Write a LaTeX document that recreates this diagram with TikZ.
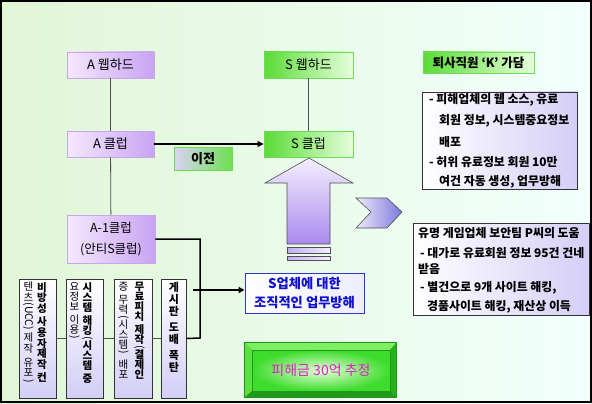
\documentclass[tikz,border=0pt]{standalone}
\usepackage{fontspec}
\setmainfont{Noto Sans CJK KR}
\usetikzlibrary{arrows.meta,calc}
\definecolor{bgL}{HTML}{E0F6D6}
\definecolor{bgR}{HTML}{F2FFFD}
\definecolor{pB}{HTML}{C8A6EC}
\definecolor{pL}{HTML}{F4E8FF}
\definecolor{pR}{HTML}{C9A3F2}
\definecolor{gB}{HTML}{6EDC50}
\definecolor{gL}{HTML}{5ADB36}
\definecolor{gR}{HTML}{E6FFDC}
\definecolor{iL}{HTML}{DAD3F6}
\definecolor{iR}{HTML}{6EE050}
\definecolor{tB}{HTML}{333333}
\definecolor{tR}{HTML}{D4CEF6}
\definecolor{vR}{HTML}{D2CEF6}
\definecolor{lineC}{HTML}{505050}
\definecolor{sB}{HTML}{2A38D0}
\definecolor{sT}{HTML}{1010D0}
\definecolor{aT}{HTML}{F3EEFD}
\definecolor{aB}{HTML}{AA8AEE}
\definecolor{cL}{HTML}{EEEAFB}
\definecolor{cR}{HTML}{7C78DC}
\definecolor{mag}{HTML}{E020C8}
\definecolor{lgT}{HTML}{7CF060}
\definecolor{lgL}{HTML}{5AE040}
\definecolor{lgR}{HTML}{28B020}
\definecolor{lgBo}{HTML}{1E9A18}
\definecolor{lgIn}{HTML}{E4FFD8}
\definecolor{lgOut}{HTML}{3EDC2C}
\newcommand\rp[1]{\rotatebox[origin=c]{-90}{#1}}
\tikzset{
 pbox/.style={draw=pB, line width=0.9pt, left color=pL, right color=pR, inner sep=0pt, font=\fontsize{13}{15}\selectfont},
 gbox/.style={draw=gB, line width=0.9pt, left color=gL, right color=gR, inner sep=0pt, font=\fontsize{13}{15}\selectfont},
 tbox/.style={draw=tB, line width=0.8pt, left color=white, right color=tR, inner sep=0pt},
 vbox/.style={draw=tB, line width=0.8pt, top color=white, bottom color=vR, inner sep=0pt, minimum height=119pt},
 tline/.style={anchor=west, inner sep=0pt, font=\fontsize{11.9}{13}\selectfont\bfseries},
 vcol/.style={anchor=north, inner sep=0pt, align=center},
 conn/.style={draw=lineC, line width=0.8pt},
 conn2/.style={draw=black, line width=1.5pt},
 arr/.style={-{Triangle[length=6pt,width=6pt]}, line width=1.2pt},
}
\begin{document}
\begin{tikzpicture}[x=1pt,y=-1pt]
\useasboundingbox (0,0) rectangle (592,404);
\shade[left color=bgL, right color=bgR] (0,0) rectangle (592,404);
\draw[line width=2pt] (1,1) rectangle (590.5,402);

% top-left column
\node[pbox, minimum width=87pt, minimum height=26pt] (aw) at (110.5,65) {A 웹하드};
\node[pbox, minimum width=87pt, minimum height=26pt] (ac) at (110.5,144) {A 클럽};
\node[pbox, minimum width=88pt, minimum height=48pt, align=center, font=\fontsize{12.5}{21}\selectfont] (a1) at (111,239) {A-1클럽\\(안티S클럽)};
% S column
\node[gbox, minimum width=89pt, minimum height=26pt] (sw) at (308.5,65) {S 웹하드};
\node[gbox, minimum width=89pt, minimum height=26pt] (sc) at (308.5,144) {S 클럽};
\node[draw=gB, line width=0.9pt, left color=iL, right color=iR, inner sep=0pt, minimum width=58pt, minimum height=23pt, font=\fontsize{13}{15}\selectfont\bfseries] (mv) at (203,158.5) {이전};
\node[gbox, minimum width=111pt, minimum height=21pt, font=\fontsize{12.5}{14}\selectfont\bfseries] (kk) at (478.5,62.5) {퇴사직원 ‘K’ 가담};

\draw[conn] (aw) -- (ac);
\draw[conn] (ac) -- (a1);
\draw[conn] (sw) -- (sc);
\draw[arr] (ac) -- (sc);

% text box 1
\node[tbox, minimum width=155pt, minimum height=97pt] (tb1) at (499.5,140.5) {};
\node[tline] (t11) at (429,100) {- 피해업체의 웹 소스, 유료};
\node[tline] (t12) at (439,121) {회원 정보, 시스템중요정보};
\node[tline] (t13) at (439,142) {배포};
\node[tline] (t14) at (429,162) {- 허위 유료정보 회원 10만};
\node[tline] (t15) at (439,182) {여건 자동 생성, 업무방해};

% text box 2
\node[tbox, minimum width=176pt, minimum height=92pt] (tb2) at (501,269) {};
\node[tline] (t21) at (418,233) {유명 게임업체 보안팀 P씨의 도움};
\node[tline] (t22) at (420,253) {- 대가로 유료회원 정보 95건 건네};
\node[tline] (t23) at (418,269) {받음};
\node[tline] (t24) at (420,288) {- 별건으로 9개 사이트 해킹,};
\node[tline] (t25) at (427,307) {경품사이트 해킹, 재산상 이득};

% big up arrow
\shade[top color=aT, bottom color=aB, draw=lineC, line width=0.6pt]
 (309,158) -- (353,183) -- (330,183) -- (330,244) -- (287,244) -- (287,183) -- (265,183) -- cycle;
\shade[left color=aB!70, right color=aT, draw=lineC, line width=0.6pt] (287,247) rectangle (330,253);
\shade[left color=aB!70, right color=aT, draw=lineC, line width=0.6pt] (287,256) rectangle (330,260);
% chevron
\shade[left color=cL, right color=cR, draw=lineC, line width=0.6pt]
 (356,198) -- (387,198) -- (402,212) -- (387,228) -- (356,228) -- (371,212) -- cycle;

% S obstruction box
\node[draw=sB, line width=1pt, left color=white, right color=white!93!blue, inner sep=0pt, minimum width=119pt, minimum height=40pt, align=center, text=sT, font=\fontsize{13.3}{19}\selectfont\bfseries] (so) at (304.5,293) {S업체에 대한\\조직적인 업무방해};

% vertical boxes
\node[vbox, minimum width=37pt] (b1) at (37.5,338.5) {};
\node[vbox, minimum width=37pt] (b2) at (84.5,338.5) {};
\node[vbox, minimum width=38pt] (b3) at (133,338.5) {};
\node[vbox, minimum width=25pt] (b4) at (173.5,338.5) {};

\node[vcol, font=\fontsize{10.5}{10.6}\selectfont\bfseries] (b1r) at (42,282) {비\\방\\성\\[3pt]사\\용\\자\\제\\작\\[3pt]컨};
\node[vcol, font=\fontsize{10.5}{10.6}\selectfont] (b1l) at (28.5,282) {텐\\츠\\\rp{(UCC)}\\[2pt]제\\작\\[3pt]유\\포\\[-3pt]\rp{)}};
\node[vcol, font=\fontsize{10.5}{10}\selectfont\bfseries] (b2r) at (87.5,282) {시\\스\\템\\[3pt]해\\킹\\[-3pt]\mdseries\rp{(}\\[-2pt]시\\스\\템\\[3pt]중};
\node[vcol, font=\fontsize{10.5}{10}\selectfont] (b2l) at (74.5,282) {요\\정\\보\\[3pt]이\\용\\[-3pt]\rp{)}};
\node[vcol, font=\fontsize{10.5}{10}\selectfont\bfseries] (b3r) at (139.5,282) {무\\료\\피\\치\\[3pt]제\\작\\[-3pt]\mdseries\rp{(}\\[-2pt]결\\제\\인};
\node[vcol, font=\fontsize{10.5}{10}\selectfont] (b3l) at (123.5,282) {증\\[3pt]무\\력\\[-3pt]\rp{(}\\[-2pt]시\\스\\템\\[-3pt]\rp{)}\\[3pt]배\\포};
\node[vcol, font=\fontsize{11}{12}\selectfont\bfseries] (b4t) at (174,282) {게\\시\\판\\[4pt]도\\배\\[4pt]폭\\탄};

\coordinate (cj) at (200,338);
\coordinate (ar) at (193,290);
\draw[conn] (b1.east) -- (b2.west);
\draw[conn] (b2.east) -- (b3.west);
\draw[conn] (b3.east) -- (b4.west);
\draw[conn2] (a1.east) -| (cj) -- (b4.east);
\draw[arr, line width=1.8pt] (ar) -- (ar -| so.west);

% loss box with bevel
\node[draw=lgBo, line width=0.8pt, fill=lgL, inner sep=0pt, minimum width=151pt, minimum height=54pt] (lo) at (320.5,370) {};
\node[inner sep=0pt, minimum width=138pt, minimum height=41pt, inner color=lgIn, outer color=lgOut, shading=radial] (loss) at (321,370.5) {};
\fill[lgT] (lo.north west) -- (lo.north east) -- (loss.north east) -- (loss.north west) -- cycle;
\fill[lgL] (lo.north west) -- (loss.north west) -- (loss.south west) -- (lo.south west) -- cycle;
\fill[lgR] (lo.north east) -- (lo.south east) -- (loss.south east) -- (loss.north east) -- cycle;
\fill[lgBo] (lo.south west) -- (loss.south west) -- (loss.south east) -- (lo.south east) -- cycle;
\draw[lgBo, line width=0.8pt] (lo.north west) rectangle (lo.south east);
\draw[lgBo, line width=0.5pt] (loss.north west) rectangle (loss.south east);
\node[inner sep=0pt, text=mag, font=\fontsize{14}{16}\selectfont] (losst) at (loss.center) {피해금 30억 추정};
\end{tikzpicture}
\end{document}
